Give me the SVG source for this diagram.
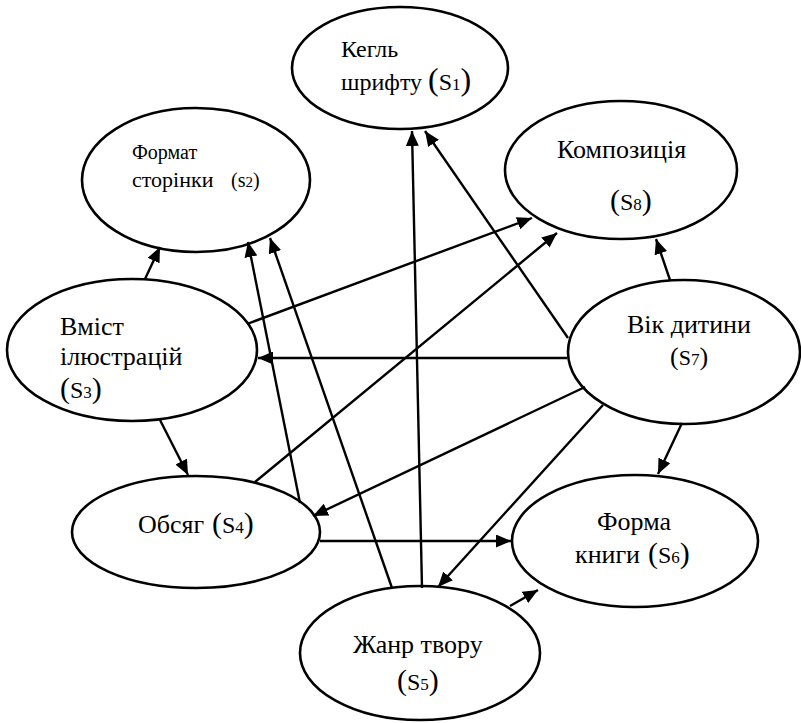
<svg xmlns="http://www.w3.org/2000/svg" width="801" height="723" viewBox="0 0 801 723">
<defs>
<style>
.n{fill:#fff;stroke:#000;stroke-width:2.6}
.e line{stroke:#000;stroke-width:2.4;marker-end:url(#ah)}
text{font-family:"Liberation Serif","Times New Roman",serif;fill:#000}
.t{font-size:26px}
.p{font-size:30px}
.s{font-size:24px}
.d{font-size:17px}
</style>
<marker id="ah" markerUnits="userSpaceOnUse" markerWidth="16" markerHeight="13" refX="15" refY="6.5" orient="auto">
<path d="M0,0 L15,6.5 L0,13 z" fill="#000"/>
</marker>
</defs>
<rect width="801" height="723" fill="#fff"/>
<g id="s1"><ellipse class="n" cx="400" cy="68" rx="108" ry="61"/>
<text x="341" y="57" style="font-size:24px">Кегль</text>
<text x="341" y="90" style="font-size:24px">шрифту</text>
<text x="428" y="90" class="s"><tspan style="font-size:32px">(</tspan>S<tspan class="d">1</tspan><tspan style="font-size:32px">)</tspan></text></g>
<g id="s2"><ellipse class="n" cx="196" cy="180" rx="114" ry="72"/>
<text x="132" y="159" style="font-size:20px">Формат</text>
<text x="132" y="187" style="font-size:22px">сторінки</text>
<text x="231" y="187" style="font-size:20px">(s<tspan style="font-size:15px">2</tspan>)</text></g>
<g id="s8"><ellipse class="n" cx="621" cy="170" rx="116" ry="69"/>
<text x="557" y="158" class="t">Композиція</text>
<text x="610" y="210" class="s"><tspan class="p">(</tspan>S<tspan class="d">8</tspan><tspan class="p">)</tspan></text></g>
<g id="s3"><ellipse class="n" cx="132" cy="350" rx="125" ry="71"/>
<text x="60" y="335" class="t">Вміст</text>
<text x="60" y="365" class="t">ілюстрацій</text>
<text x="60" y="398" class="s"><tspan class="p">(</tspan>S<tspan class="d">3</tspan><tspan class="p">)</tspan></text></g>
<g id="s7"><ellipse class="n" cx="684" cy="352" rx="116" ry="72"/>
<text x="627" y="333" class="t">Вік дитини</text>
<text x="670" y="365" style="font-size:22px"><tspan style="font-size:26px">(</tspan>S<tspan class="d">7</tspan><tspan style="font-size:26px">)</tspan></text></g>
<g id="s4"><ellipse class="n" cx="196" cy="532" rx="124" ry="56"/>
<text x="138" y="533" class="t">Обсяг</text>
<text x="212" y="533" class="s"><tspan class="p">(</tspan>S<tspan class="d">4</tspan><tspan class="p">)</tspan></text></g>
<g id="s6"><ellipse class="n" cx="635" cy="541" rx="123" ry="66"/>
<text x="597" y="530" class="t">Форма</text>
<text x="575" y="563" class="t">книги</text>
<text x="648" y="563" class="s"><tspan class="p">(</tspan>S<tspan class="d">6</tspan><tspan class="p">)</tspan></text></g>
<g id="s5"><ellipse class="n" cx="420" cy="653" rx="120" ry="67"/>
<text x="353" y="653" class="t">Жанр твору</text>
<text x="397" y="690" class="s"><tspan class="p">(</tspan>S<tspan class="d">5</tspan><tspan class="p">)</tspan></text></g>
<g id="connectors" class="e">
<line x1="145" y1="279" x2="160" y2="247"/>
<line x1="247" y1="324" x2="532" y2="218"/>
<line x1="567" y1="358" x2="258" y2="358"/>
<line x1="568" y1="338" x2="425" y2="131"/>
<line x1="670" y1="280" x2="656" y2="239"/>
<line x1="682" y1="423" x2="658" y2="474"/>
<line x1="585" y1="387" x2="313" y2="516"/>
<line x1="603" y1="405" x2="438" y2="587"/>
<line x1="160" y1="420" x2="188" y2="475"/>
<line x1="255" y1="482" x2="557" y2="233"/>
<line x1="300" y1="503" x2="248" y2="242"/>
<line x1="320" y1="541" x2="511" y2="541"/>
<line x1="422" y1="588" x2="412" y2="131"/>
<line x1="392" y1="588" x2="270" y2="238"/>
<line x1="510" y1="606" x2="538" y2="590"/>
</g>
</svg>
